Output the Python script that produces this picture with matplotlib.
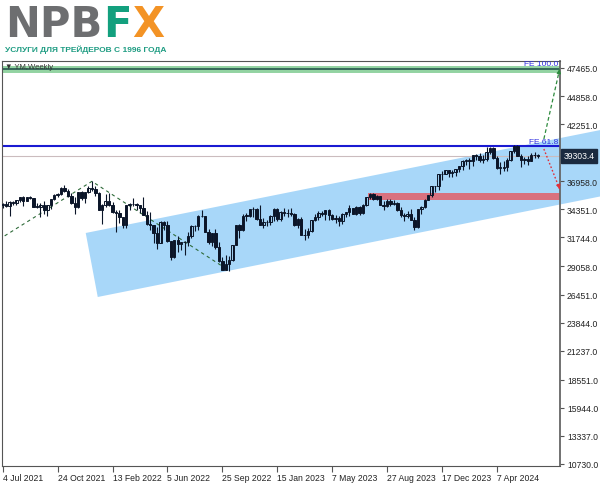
# YM weekly chart with channel and fibo expansion levels
import numpy as np
import matplotlib.pyplot as plt
import matplotlib.transforms as mtransforms
from matplotlib.patches import Polygon

plt.rcParams['font.family'] = ['Liberation Sans', 'DejaVu Sans']

# Weekly bars, index 0 = week of 4 Jul 2021
opens = [34790, 34870, 34690, 35060, 34940, 35210, 35520, 35120, 35460, 35370,
         34610, 34580, 34800, 34330, 34750, 35300, 35680, 35820, 36330, 36100,
         35600, 34900, 34580, 35970, 35370, 35950, 36340, 36230, 35910, 34270,
         34730, 35090, 34740, 34080, 34060, 33610, 32940, 34750, 34860, 34820,
         34720, 34450, 33810, 32980, 32900, 32200, 31260, 33210, 32900, 31390,
         29890, 31500, 31100, 31340, 31290, 31900, 32850, 32800, 33760, 33710,
         32280, 31320, 32150, 30820, 29590, 28730, 29300, 29630, 31080, 32860,
         32400, 33750, 33750, 34350, 34430, 33480, 32920, 33200, 33150, 33730,
         34400, 33480, 34080, 34030, 33970, 33930, 32920, 33490, 32010, 31960,
         32340, 33370, 33640, 34040, 33960, 34250, 33830, 33450, 33580, 33250,
         33910, 34080, 34500, 33930, 34610, 33990, 34760, 35510, 35740, 35350,
         35560, 34780, 34630, 35120, 34860, 34900, 34250, 33790, 33690, 33950,
         33410, 32700, 34340, 34560, 35230, 35670, 36530, 36500, 37590, 37670,
         37970, 37700, 37820, 38090, 38340, 38880, 38900, 38860, 39360, 39320,
         38950, 38980, 39710, 40040, 39130, 38210, 38220, 38320, 38910, 39740,
         40230, 39300, 38920, 39030, 38820, 39380, 39350]
highs = [34950, 35090, 35110, 35170, 35250, 35530, 35630, 35510, 35560, 35390,
         34900, 34900, 35090, 34800, 35310, 35770, 35890, 36430, 36570, 36250,
         35910, 35480, 36000, 36060, 35980, 36490, 36950, 36480, 36000, 34830,
         35820, 35830, 35000, 34330, 34280, 33640, 34800, 34900, 35370, 34960,
         34730, 35490, 34180, 34120, 32940, 32690, 33250, 33270, 33240, 31420,
         31520, 31900, 31350, 31400, 32280, 32880, 32930, 33790, 34280, 33750,
         32550, 32170, 32500, 31330, 29910, 30130, 30040, 31090, 32890, 33000,
         33920, 34000, 34360, 34590, 34460, 34710, 33520, 33390, 33800, 34440,
         34460, 34180, 34450, 34350, 34440, 34000, 33520, 33670, 32560, 32650,
         33380, 33880, 34160, 34210, 34290, 34430, 33960, 33810, 33730, 33990,
         34130, 34790, 34520, 34650, 34660, 34850, 35530, 35870, 35850, 35700,
         35620, 35120, 35350, 35340, 35200, 35000, 34530, 34030, 34210, 34370,
         33680, 34370, 34620, 35270, 35690, 36560, 36560, 37660, 37920, 38000,
         38020, 38000, 38120, 38400, 38950, 39030, 39140, 39380, 39450, 39560,
         39400, 40120, 40130, 40110, 39340, 38740, 38800, 39150, 39750, 40300,
         40310, 39500, 39200, 39310, 39600, 39700, 39480]
lows = [34450, 34600, 33740, 34760, 34780, 35040, 34690, 35110, 35280, 34600,
        34450, 33610, 33900, 33690, 34340, 35250, 35480, 35690, 35920, 35530,
        34830, 33950, 34440, 35190, 34940, 35850, 36100, 35630, 34250, 32990,
        34550, 34670, 33970, 32270, 33130, 32630, 32580, 34300, 34620, 34280,
        34020, 33800, 32920, 32480, 31230, 30640, 31200, 32470, 31360, 29650,
        29860, 30440, 30560, 30140, 30950, 31660, 32370, 32450, 33600, 32250,
        31160, 30980, 30660, 29440, 28700, 28700, 28660, 29600, 31060, 31730,
        32390, 33290, 33660, 33650, 33390, 32880, 32580, 32810, 32910, 33300,
        33230, 33280, 33700, 33660, 33720, 32840, 32600, 31980, 31530, 31700,
        32220, 33300, 33380, 33700, 33370, 33340, 33350, 33050, 32820, 32950,
        33650, 33750, 33900, 33860, 33860, 33920, 34670, 35280, 35220, 35190,
        34770, 34320, 34610, 34700, 34720, 34180, 33650, 33280, 33530, 33380,
        32400, 32620, 33960, 34470, 35200, 35480, 35980, 36140, 37120, 37600,
        37350, 37350, 37450, 37840, 38010, 38430, 38100, 38330, 38900, 38750,
        38690, 38880, 39450, 38990, 38110, 37600, 37950, 37950, 38850, 39590,
        39290, 38300, 38540, 38430, 38800, 39100, 39150]
closes = [34870, 34690, 35060, 34940, 35210, 35520, 35120, 35460, 35370, 34610,
          34580, 34800, 34330, 34750, 35300, 35680, 35820, 36330, 36100, 35600,
          34900, 34580, 35970, 35370, 35950, 36340, 36230, 35910, 34270, 34730,
          35090, 34740, 34080, 34060, 33610, 32940, 34750, 34860, 34820, 34720,
          34450, 33810, 32980, 32900, 32200, 31260, 33210, 32900, 31390, 29890,
          31500, 31100, 31340, 31290, 31900, 32850, 32800, 33760, 33710, 32280,
          31320, 32150, 30820, 29590, 28730, 29300, 29630, 31080, 32860, 32400,
          33750, 33745, 34350, 34430, 33480, 32920, 33200, 33150, 33730, 34400,
          33480, 34080, 34030, 33970, 33930, 32920, 33490, 32010, 31960, 32340,
          33370, 33640, 34040, 33960, 34250, 33830, 33450, 33580, 33250, 33910,
          34080, 34500, 33930, 34610, 33990, 34760, 35510, 35740, 35350, 35560,
          34780, 34630, 35120, 34860, 34900, 34250, 33790, 33690, 33950, 33410,
          32700, 34340, 34560, 35230, 35670, 36530, 36500, 37590, 37670, 37970,
          37700, 37820, 38090, 38340, 38880, 38900, 38860, 39360, 39320, 38950,
          38980, 39710, 40040, 39130, 38210, 38220, 38320, 38910, 39740, 40230,
          39300, 38920, 39030, 38820, 39380, 39350, 39303.4]
current_price = 39303.4

# axis labels
xtick_pos = [0, 16, 32, 48, 64, 80, 96, 112, 128, 144]
xtick_labels = ['4 Jul 2021', '24 Oct 2021', '13 Feb 2022', '5 Jun 2022', '25 Sep 2022',
                '15 Jan 2023', '7 May 2023', '27 Aug 2023', '17 Dec 2023', '7 Apr 2024']
ytick_vals = [47465, 44858, 42251, 36958, 34351, 31744, 29058, 26451,
              23844, 21237, 18551, 15944, 13337, 10730]

# drawing objects (bar index, price)
fib_x = [-68, 26, 66]            # Mar 2020 low, Jan 2022 high, Oct 2022 low
fib_y = [18250, 36950, 28660]
fe_ratios = [0.618, 1.0]
chan_x = [24.2, 174.3]
chan_top = [32160, 41720]
chan_bottom_x0 = 27.7
chan_width = 6160
res_x0 = 106.4
res_low, res_high = 35200, 35850
fc_x = [157.7, 162.3]
fc_up = [40880, 47360]
fc_down = [39950, 36240]

fig = plt.figure(figsize=(6, 4.85), dpi=100)
ax = fig.add_axes([2 / 600, 18 / 485, 558 / 600, 405 / 485])
xmax = 162.4
ax.set_xlim(-0.2, xmax)
ax.set_ylim(10544, 48114)

# channel
slope = (chan_top[1] - chan_top[0]) / (chan_x[1] - chan_x[0])
bl_y = chan_top[0] + slope * (chan_bottom_x0 - chan_x[0]) - chan_width
chan = Polygon([(chan_x[0], chan_top[0]), (chan_x[1], chan_top[1]),
                (chan_x[1], chan_top[1] - chan_width), (chan_bottom_x0, bl_y)],
               closed=True, fc='#a8d7f9', ec='none', clip_on=False, zorder=0.5)
ax.add_patch(chan)

# resistance band
ax.fill_between([res_x0, xmax], res_low, res_high, color='#d9717e', lw=0, zorder=1)

# levels
fe_levels = [fib_y[2] + r * (fib_y[1] - fib_y[0]) for r in fe_ratios]
ax.axhline(current_price, color='#cbbcbe', lw=0.8, zorder=1.5)
ax.axhline(fe_levels[0], color='#1a1ad2', lw=1.5, zorder=2)
ax.axhline(fe_levels[1], color='#93d3a2', lw=5, zorder=2)
ax.axhline(fe_levels[1], color='#1d4a46', lw=1.1, zorder=2.1)
ax.text(xmax - 0.6, fe_levels[0] + 120, 'FE 61.8', ha='right', va='bottom',
        color='#3030e0', fontsize=6, zorder=5)
ax.text(xmax - 0.6, fe_levels[1] + 160, 'FE 100.0', ha='right', va='bottom',
        color='#3030e0', fontsize=6, zorder=5)

# zigzag
ax.plot(fib_x, fib_y, ls=(0, (3, 3)), color='#2f6b3a', lw=0.8, zorder=2.2)

# candles
o = np.array(opens)
h = np.array(highs)
l = np.array(lows)
c = np.array(closes)
idx = np.arange(len(c))
up = c >= o
ax.vlines(idx, l, h, color='#0b1528', lw=0.8, zorder=3)
bottom = np.minimum(o, c)
height = np.maximum(np.abs(c - o), 40)
ax.bar(idx[up], height[up], bottom=bottom[up], width=0.7, facecolor='none',
       edgecolor='#0b1528', lw=0.7, zorder=4)
ax.bar(idx[~up], height[~up], bottom=bottom[~up], width=0.7, color='#0b1528',
       edgecolor='#0b1528', lw=0.7, zorder=4)

# forecast arrows
ax.plot(fc_x, fc_up, ls=(0, (3, 2)), color='#2e8b3e', lw=0.9, zorder=5)
ax.annotate('', xy=(fc_x[1], fc_up[1]), xytext=(fc_x[1] - 0.3, fc_up[1] - 500),
            arrowprops=dict(arrowstyle='-|>', color='#2e8b3e', lw=0.8, mutation_scale=6),
            zorder=5)
ax.plot(fc_x, fc_down, ls=(0, (1.2, 1.5)), color='#e0303a', lw=1.0, zorder=5)
ax.annotate('', xy=(fc_x[1], fc_down[1]), xytext=(fc_x[1] - 0.3, fc_down[1] + 300),
            arrowprops=dict(arrowstyle='-|>', color='#e0303a', lw=0.8, mutation_scale=6),
            zorder=5)

# axes styling
for s in ['left', 'top', 'bottom']:
    ax.spines[s].set_color('#555555')
    ax.spines[s].set_linewidth(0.8)
ax.spines['right'].set_color('#666666')
ax.spines['right'].set_linewidth(1.3)

ax.yaxis.tick_right()
ax.set_yticks(ytick_vals)
ax.set_yticklabels([f'{v:.1f}' for v in ytick_vals])
ax.set_xticks(xtick_pos)
ax.set_xticklabels(xtick_labels)
for lbl in ax.get_xticklabels():
    lbl.set_ha('left')
ax.tick_params(axis='y', direction='out', length=3, width=0.8, color='#555555',
               labelcolor='#222222', labelsize=6.2, pad=2)
ax.tick_params(axis='x', direction='out', length=4, width=0.8, color='#555555',
               labelcolor='#222222', labelsize=6.2, pad=1)

# current price label
trans = mtransforms.blended_transform_factory(ax.transAxes, ax.transData)
ax.text(1.006, current_price, f'{current_price:.1f}', transform=trans, ha='left',
        va='center', color='white', fontsize=6.2, clip_on=False, zorder=6,
        bbox=dict(boxstyle='square,pad=0.3', fc='#1b2a3f', ec='#1b2a3f'))

ax.text(0.006, 0.995, '\u25bc YM,Weekly', transform=ax.transAxes, ha='left', va='top',
        fontsize=5.5, color='#333333', zorder=2.5)

# logo
fig.text(5 / 600, 1 - 37 / 485, 'NPB', fontsize=30, fontweight='bold',
         color='#6d6e70', va='baseline', family='DejaVu Sans')
fig.text(103 / 600, 1 - 37 / 485, 'F', fontsize=30, fontweight='bold',
         color='#13a07e', va='baseline', family='DejaVu Sans')
fig.text(132 / 600, 1 - 37 / 485, 'X', fontsize=30, fontweight='bold',
         color='#f39325', va='baseline', family='DejaVu Sans')
fig.text(5 / 600, 1 - 52 / 485, 'УСЛУГИ ДЛЯ ТРЕЙДЕРОВ С 1996 ГОДА', fontsize=6,
         fontweight='bold', color='#1e9c82', va='baseline')

fig.savefig('out.png', dpi=100)
